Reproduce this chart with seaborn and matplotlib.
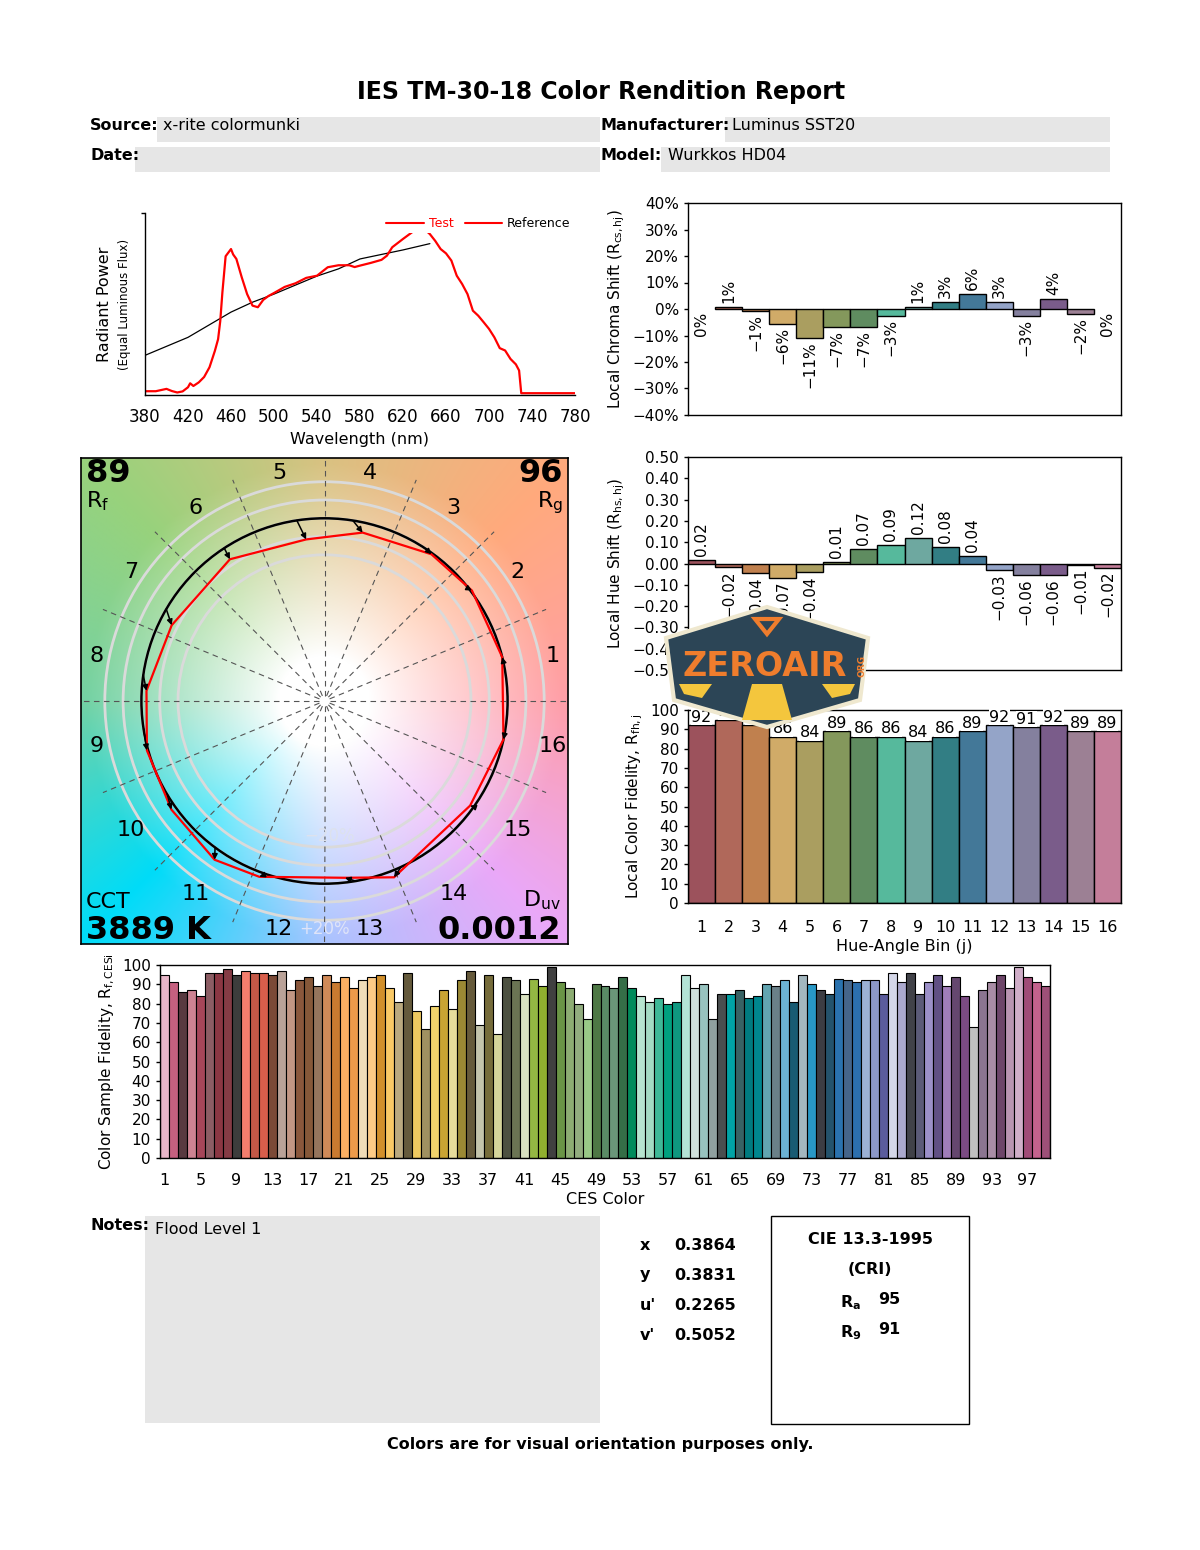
import numpy as np
import pandas as pd
import matplotlib
matplotlib.use("Agg")
import matplotlib.pyplot as plt
import seaborn as sns
from matplotlib.patches import Polygon, Rectangle, Circle
from matplotlib.lines import Line2D
from matplotlib.ticker import FuncFormatter

# ------------------------------------------------------------------ data
wl_test = [380, 390, 400, 405, 410, 415, 420, 422, 425, 430, 435, 440, 445, 448, 450, 452,
           455, 460, 462, 465, 470, 475, 480, 485, 490, 495, 500, 510, 520, 530, 540, 550,
           560, 570, 575, 580, 590, 600, 605, 610, 620, 630, 635, 640, 645, 650, 655, 660,
           665, 670, 675, 680, 685, 690, 695, 700, 705, 710, 715, 720, 725, 728, 730, 740,
           760, 780]
test_spd = [0.011, 0.011, 0.024, 0.012, 0.004, 0.010, 0.033, 0.055, 0.040, 0.060, 0.090,
            0.144, 0.235, 0.300, 0.400, 0.560, 0.760, 0.800, 0.770, 0.745, 0.643, 0.550,
            0.486, 0.477, 0.518, 0.540, 0.556, 0.590, 0.610, 0.640, 0.652, 0.699, 0.710,
            0.710, 0.700, 0.708, 0.723, 0.740, 0.763, 0.810, 0.856, 0.900, 0.917, 0.910,
            0.883, 0.845, 0.800, 0.776, 0.736, 0.652, 0.606, 0.550, 0.458, 0.430, 0.394,
            0.357, 0.310, 0.250, 0.237, 0.190, 0.160, 0.126, 0.000, 0.000, 0.000, 0.000]
wl_ref = [380, 400, 420, 440, 460, 480, 500, 520, 540, 560, 580, 600, 620, 645]
ref_spd = [0.21, 0.26, 0.31, 0.38, 0.45, 0.505, 0.55, 0.60, 0.65, 0.69, 0.745, 0.77, 0.795, 0.83]
spec_ticks = [380, 420, 460, 500, 540, 580, 620, 660, 700, 740, 780]

bins = [str(b) for b in range(1, 17)]
bin_colors = ["#9c525c", "#b0685a", "#c0804e", "#d0ab68", "#aa9e60", "#84985c", "#5f8c60",
              "#56b99c", "#6ea8a0", "#327e84", "#437898", "#94a4c8", "#84809e", "#7a5c8a",
              "#9c8094", "#c47e9a"]
chroma_shift = [0.0, 0.7, -0.7, -5.5, -11.0, -6.8, -6.8, -2.6, 0.7, 2.6, 5.6, 2.6, -2.6, 3.7, -2.0, 0.0]
hue_shift = [0.017, -0.016, -0.044, -0.067, -0.039, 0.008, 0.066, 0.086, 0.12, 0.078, 0.036,
             -0.03, -0.056, -0.056, -0.006, -0.02]
fidelity_bin = [92, 95, 92, 86, 84, 89, 86, 86, 84, 86, 89, 92, 91, 92, 89, 89]
ref_angle_deg = [12.9, 37.8, 56.5, 81.1, 98.7, 123.2, 149.8, 171.8, 188.7, 210.9, 233.3,
                 251.4, 279.8, 294.7, 324.6, 349.0]

ces_ids = [str(i) for i in range(1, 100)]
ces_vals = [95, 91, 86, 87, 84, 96, 96, 98, 95, 97, 96, 96, 95, 97, 87, 92, 94, 89, 95, 91,
            94, 88, 92, 94, 95, 88, 81, 96, 76, 67, 79, 87, 77, 92, 97, 69, 95, 64, 94, 92,
            85, 93, 89, 99, 91, 88, 80, 72, 90, 89, 88, 94, 88, 84, 81, 83, 80, 81, 95, 88,
            90, 72, 85, 85, 87, 83, 84, 90, 89, 92, 81, 95, 90, 87, 85, 93, 92, 91, 92, 92,
            85, 96, 91, 96, 85, 91, 95, 89, 94, 84, 68, 87, 91, 95, 88, 99, 94, 91, 89]
ces_colors = ["#e8b6c9", "#c5607f", "#583a40", "#cd8392", "#a64659", "#8c5d64", "#8b3743",
              "#853c45", "#3d3d3c", "#f47e6d", "#c35847", "#d85e4b", "#7b4a37", "#b9a298",
              "#c29684", "#8a573c", "#865839", "#95755d", "#d08a58", "#c97a30", "#fbb063",
              "#ec9a4a", "#efdcb8", "#fdcb86", "#d18f2b", "#f9c966", "#baa97f", "#655a3c",
              "#eec960", "#a09161", "#f0d36c", "#c9a433", "#e6dc9b", "#9b8934", "#665a3b",
              "#c4c4ac", "#766c3b", "#d5d59b", "#4d5141", "#6b7453", "#d9e1c1", "#94b743",
              "#90b02f", "#404040", "#6a9546", "#8dad73", "#92ad7f", "#99c987", "#4e7845",
              "#5a8b65", "#6a9679", "#356e47", "#008b5b", "#b6e4cf", "#a4dbc3", "#3fb897",
              "#00a07f", "#0e9880", "#b3e3d6", "#cfe0dc", "#98c3bf", "#90a09f", "#4a4e4f",
              "#00a3a6", "#386264", "#007b80", "#00878f", "#62a5b1", "#6a8088", "#6cb3d4",
              "#185b73", "#a3b7bf", "#2898c6", "#3c3d43", "#24536c", "#2a72ae", "#45658a",
              "#2c6fae", "#9cb1d5", "#8c98c8", "#5b5c9c", "#d4d7e8", "#aba9cd", "#414248",
              "#5c5b78", "#9c90c8", "#615084", "#a07db9", "#65476f", "#7b4b83", "#c0c0c0",
              "#8b7590", "#a98da5", "#6d4669", "#b995b1", "#d0aec8", "#a04b77", "#c4628d",
              "#9e5078"]

wheel_angles = [0, 45, 90, 135, 180, 225, 270, 315, 360]
wheel_colors = ["#ff9fa8", "#ffaa7c", "#d9c282", "#98d27c", "#74d2a4", "#00dcf8", "#aac4ff",
                "#eaa8f8", "#ff9fa8"]

Rf, Rg, CCT, Duv = "89", "96", "3889 K", "0.0012"
chrom_labels = ["x", "y", "u'", "v'"]
chrom_values = ["0.3864", "0.3831", "0.2265", "0.5052"]
Ra, R9 = "95", "91"

# ------------------------------------------------------------------ style
sns.set_theme(style="white")
plt.rcParams["font.family"] = ["DejaVu Sans"]
plt.rcParams.update({"axes.edgecolor": "black", "axes.linewidth": 1.0,
                     "ytick.left": True, "ytick.major.size": 3, "ytick.major.width": 1,
                     "xtick.bottom": False, "text.color": "black",
                     "axes.labelcolor": "black", "xtick.color": "black", "ytick.color": "black"})
MINUS = "\u2212"

fig = plt.figure(figsize=(12, 15.5), dpi=100)
fig.patch.set_facecolor("white")


def fx(x):
    return x / 1200.0


def fy(y):
    return 1.0 - y / 1550.0


def axrect(l, t, r, b):
    return [fx(l), fy(b), (r - l) / 1200.0, (b - t) / 1550.0]


def gray_box(l, t, r, b, fc="#e6e6e6", ec="none", lw=0):
    fig.add_artist(Rectangle((fx(l), fy(b)), (r - l) / 1200.0, (b - t) / 1550.0,
                             transform=fig.transFigure, facecolor=fc, edgecolor=ec,
                             linewidth=lw, zorder=0))


def fmt_num(v, nd):
    v = round(v, nd) + 0.0
    return f"{v:.{nd}f}".replace("-", MINUS)


# ------------------------------------------------------------------ header
fig.text(fx(601), fy(92), "IES TM-30-18 Color Rendition Report", ha="center", va="center",
         fontsize=17, fontweight="bold")
gray_box(157, 117, 600, 142)
gray_box(135, 147, 600, 172)
gray_box(725, 117, 1110, 142)
gray_box(661, 147, 1110, 172)
hdr = dict(fontsize=11.5, va="center")
fig.text(fx(90), fy(126), "Source:", fontweight="bold", **hdr)
fig.text(fx(163), fy(126), "x-rite colormunki", **hdr)
fig.text(fx(90), fy(156), "Date:", fontweight="bold", **hdr)
fig.text(fx(600), fy(126), "Manufacturer:", fontweight="bold", **hdr)
fig.text(fx(732), fy(126), "Luminus SST20", **hdr)
fig.text(fx(600), fy(156), "Model:", fontweight="bold", **hdr)
fig.text(fx(668), fy(156), "Wurkkos HD04", **hdr)

# ------------------------------------------------------------------ spectrum
ax = fig.add_axes(axrect(145, 213, 575, 395))
sns.lineplot(x=wl_ref, y=ref_spd, ax=ax, color="black", lw=0.9)
sns.lineplot(x=wl_test, y=test_spd, ax=ax, color="red", lw=1.6)
ax.set_xlim(380, 780)
ax.set_ylim(-0.01, 1.0)
ax.set_xticks(spec_ticks)
ax.set_xticklabels([str(t) for t in spec_ticks], fontsize=12)
ax.set_yticks([1.0])
ax.set_yticklabels([])
ax.spines["top"].set_visible(False)
ax.spines["right"].set_visible(False)
ax.set_xlabel("Wavelength (nm)", fontsize=11.5, labelpad=4)
ax.set_ylabel("")
ax.text(-0.095, 0.5, "Radiant Power", transform=ax.transAxes, rotation=90, ha="center",
        va="center", fontsize=11.5)
ax.text(-0.048, 0.5, "(Equal Luminous Flux)", transform=ax.transAxes, rotation=90,
        ha="center", va="center", fontsize=8.5)
ax.legend(handles=[Line2D([], [], color="red", lw=1.5), Line2D([], [], color="red", lw=1.5)],
          labels=["Test", "Reference"], ncol=2, loc="upper right", fontsize=9,
          frameon=True, facecolor="white", edgecolor="none", framealpha=1,
          labelcolor=["red", "black"], handlelength=3, borderaxespad=0.15,
          columnspacing=0.9, borderpad=0.2, handletextpad=0.4)

# ------------------------------------------------------------------ vector graphic
axv = fig.add_axes(axrect(81, 458, 568, 944))
lim = 1.33
g = np.linspace(-lim, lim, 600)
X, Y = np.meshgrid(g, g)
R = np.hypot(X, Y)
T = np.degrees(np.arctan2(Y, X)) % 360
rgb = np.array([matplotlib.colors.to_rgb(c) for c in wheel_colors])
wheel = np.stack([np.interp(T, wheel_angles, rgb[:, k]) for k in range(3)], axis=-1)
w = np.clip((R - 0.25) / 1.05, 0, 1) ** 0.9
img = 1 - w[..., None] * (1 - wheel)
axv.imshow(img, extent=[-lim, lim, -lim, lim], origin="lower", interpolation="bilinear",
           aspect="auto", zorder=0)
axv.set_xlim(-lim, lim)
axv.set_ylim(-lim, lim)
axv.set_xticks([])
axv.set_yticks([])
for s in axv.spines.values():
    s.set_color("black")
    s.set_linewidth(1.2)
for rr in [0.8, 0.9, 1.0, 1.1, 1.2]:
    axv.add_patch(Circle((0, 0), rr, fill=False, edgecolor="#dadada", lw=2.0, zorder=1))
for k in range(16):
    a = np.radians(k * 22.5)
    L = 1.34 if k % 4 == 0 else 1.31
    axv.plot([0.03 * np.cos(a), L * np.cos(a)], [0.03 * np.sin(a), L * np.sin(a)],
             color="#555555", lw=0.8, ls=(0, (5, 4)), zorder=2)
axv.add_patch(Circle((0, 0), 1.0, fill=False, edgecolor="black", lw=1.8, zorder=3))
ra = np.radians(ref_angle_deg)
ta = ra + np.array(hue_shift)
tr = 1 + np.array(chroma_shift) / 100.0
tx, ty = tr * np.cos(ta), tr * np.sin(ta)
axv.add_patch(Polygon(np.column_stack([tx, ty]), closed=True, fill=False,
                      edgecolor="red", lw=1.6, zorder=4))
for k in range(16):
    axv.annotate("", xy=(tx[k], ty[k]), xytext=(np.cos(ra[k]), np.sin(ra[k])),
                 arrowprops=dict(arrowstyle="-|>", color="black", lw=1.1,
                                 mutation_scale=8, shrinkA=0, shrinkB=0), zorder=5)
for k in range(16):
    a = np.radians((k + 0.5) * 22.5)
    axv.text(1.27 * np.cos(a), 1.27 * np.sin(a), bins[k], ha="center", va="center",
             fontsize=16, zorder=6)
axv.text(0.03, -0.74, MINUS + "20%", ha="center", va="center", fontsize=12,
         color="#dde2ee", zorder=6)
axv.text(0.0, -1.25, "+20%", ha="center", va="center", fontsize=12, color="#dfe4f8",
         zorder=6)
tkw = dict(transform=axv.transAxes, zorder=7)
axv.text(0.01, 1.0, Rf, ha="left", va="top", fontsize=23, fontweight="bold", **tkw)
axv.text(0.01, 0.935, "R$_\\mathregular{f}$", ha="left", va="top", fontsize=16, **tkw)
axv.text(0.99, 1.0, Rg, ha="right", va="top", fontsize=23, fontweight="bold", **tkw)
axv.text(0.99, 0.935, "R$_\\mathregular{g}$", ha="right", va="top", fontsize=16, **tkw)
axv.text(0.01, 0.065, "CCT", ha="left", va="bottom", fontsize=16, **tkw)
axv.text(0.01, -0.005, CCT, ha="left", va="bottom", fontsize=23, fontweight="bold", **tkw)
axv.text(0.985, 0.065, "D$_\\mathregular{uv}$", ha="right", va="bottom", fontsize=16, **tkw)
axv.text(0.985, -0.005, Duv, ha="right", va="bottom", fontsize=23, fontweight="bold", **tkw)

# ------------------------------------------------------------------ bar helpers
df_bins = pd.DataFrame({"bin": bins, "chroma": chroma_shift, "hue": hue_shift,
                        "fid": fidelity_bin})


def bin_bars(ax, col):
    sns.barplot(data=df_bins, x="bin", y=col, hue="bin", palette=bin_colors, legend=False,
                width=1.0, edgecolor="black", linewidth=1.0, saturation=1, ax=ax)
    for p in ax.patches:
        if abs(p.get_height()) < 1e-9:
            p.set_linewidth(0)
    ax.set_xlim(-0.5, 15.5)
    ax.set_xlabel("")
    for s in ax.spines.values():
        s.set_visible(True)
        s.set_color("black")


lab_bbox = dict(facecolor="white", edgecolor="none", pad=0.6)

# chroma shift
axc = fig.add_axes(axrect(688, 203, 1121, 415))
bin_bars(axc, "chroma")
axc.set_ylim(-40, 40)
axc.set_yticks(range(-40, 41, 10))
axc.yaxis.set_major_formatter(FuncFormatter(lambda v, p: fmt_num(v, 0) + "%"))
axc.tick_params(axis="y", labelsize=11)
axc.set_xticks([])
axc.set_ylabel("Local Chroma Shift (R$_\\mathregular{cs,hj}$)", fontsize=11)
for i, v in enumerate(chroma_shift):
    lab = fmt_num(v, 0) + "%"
    if v > 0:
        axc.text(i, v + 1.5, lab, rotation=90, ha="center", va="bottom", fontsize=11,
                 bbox=lab_bbox, zorder=5)
    else:
        axc.text(i, v - 1.2, lab, rotation=90, ha="center", va="top", fontsize=11,
                 bbox=lab_bbox, zorder=5)

# hue shift
axh = fig.add_axes(axrect(688, 457, 1121, 670))
bin_bars(axh, "hue")
axh.set_ylim(-0.5, 0.5)
axh.set_yticks(np.round(np.arange(-0.5, 0.51, 0.1), 2))
axh.yaxis.set_major_formatter(FuncFormatter(lambda v, p: fmt_num(v, 2)))
axh.tick_params(axis="y", labelsize=11)
axh.set_xticks([])
axh.set_ylabel("Local Hue Shift (R$_\\mathregular{hs,hj}$)", fontsize=11)
for i, v in enumerate(hue_shift):
    lab = fmt_num(v, 2)
    if v > 0:
        axh.text(i, v + 0.02, lab, rotation=90, ha="center", va="bottom", fontsize=11,
                 bbox=lab_bbox, zorder=5)
    else:
        axh.text(i, v - 0.015, lab, rotation=90, ha="center", va="top", fontsize=11,
                 bbox=lab_bbox, zorder=5)

# fidelity by hue bin
axf = fig.add_axes(axrect(688, 710, 1121, 903))
bin_bars(axf, "fid")
axf.set_ylim(0, 100)
axf.set_yticks(range(0, 101, 10))
axf.tick_params(axis="y", labelsize=11)
axf.tick_params(axis="x", labelsize=11.5, pad=6)
axf.set_xticks(range(16))
axf.set_xticklabels(bins)
axf.set_xlabel("Hue-Angle Bin (j)", fontsize=11.5, labelpad=3)
axf.set_ylabel("Local Color Fidelity, R$_\\mathregular{fh,j}$", fontsize=11)
for i, v in enumerate(fidelity_bin):
    axf.text(i, v + 0.3, str(v), ha="center", va="bottom", fontsize=11.5,
             bbox=dict(facecolor="white", edgecolor="none", pad=0.3), zorder=5)

# ------------------------------------------------------------------ CES fidelity
axs = fig.add_axes(axrect(160, 965, 1050, 1158))
df_ces = pd.DataFrame({"ces": ces_ids, "val": ces_vals})
sns.barplot(data=df_ces, x="ces", y="val", hue="ces", palette=ces_colors, legend=False,
            width=1.0, edgecolor="black", linewidth=0.8, saturation=1, ax=axs)
axs.set_xlim(-0.5, 98.5)
axs.set_ylim(0, 100)
axs.set_yticks(range(0, 101, 10))
axs.tick_params(axis="y", labelsize=11)
axs.set_xticks(range(0, 99, 4))
axs.set_xticklabels([ces_ids[i] for i in range(0, 99, 4)], fontsize=11.5)
axs.tick_params(axis="x", pad=5)
axs.set_xlabel("CES Color", fontsize=11.5, labelpad=3)
axs.set_ylabel("Color Sample Fidelity, R$_\\mathregular{f,CESi}$", fontsize=11)
for s in axs.spines.values():
    s.set_visible(True)
    s.set_color("black")

# ------------------------------------------------------------------ bottom section
gray_box(145, 1216, 600, 1423)
fig.text(fx(90), fy(1226), "Notes:", fontsize=11.5, fontweight="bold", va="center")
fig.text(fx(155), fy(1230), "Flood Level 1", fontsize=11.5, va="center")
for k, (lab, val) in enumerate(zip(chrom_labels, chrom_values)):
    yy = 1245 + 30 * k
    fig.text(fx(640), fy(yy), lab, fontsize=11.5, fontweight="bold", va="center")
    fig.text(fx(674), fy(yy), val, fontsize=11.5, fontweight="bold", va="center")
gray_box(771, 1216, 969, 1424, fc="white", ec="black", lw=1.0)
fig.text(fx(870), fy(1240), "CIE 13.3-1995", fontsize=11.5, fontweight="bold",
         ha="center", va="center")
fig.text(fx(870), fy(1270), "(CRI)", fontsize=11.5, fontweight="bold", ha="center",
         va="center")
fig.text(fx(840), fy(1303), "R$_\\mathbf{a}$", fontsize=11.5, fontweight="bold", va="center")
fig.text(fx(878), fy(1300), Ra, fontsize=11.5, fontweight="bold", va="center")
fig.text(fx(840), fy(1333), "R$_\\mathbf{9}$", fontsize=11.5, fontweight="bold", va="center")
fig.text(fx(878), fy(1330), R9, fontsize=11.5, fontweight="bold", va="center")
fig.text(fx(600), fy(1444), "Colors are for visual orientation purposes only.",
         fontsize=11.5, fontweight="bold", ha="center", va="center")

# ------------------------------------------------------------------ watermark
hexa = [(666, 638), (767, 607), (868, 638), (860, 700), (767, 727), (674, 700)]
fig.add_artist(Polygon([(fx(a), fy(b)) for a, b in hexa], closed=True,
                       transform=fig.transFigure, facecolor="#2c4556", edgecolor="#efe8cf",
                       linewidth=3, zorder=20))
for poly in [[(679, 684), (712, 684), (702, 698), (684, 694)],
             [(752, 684), (782, 684), (792, 720), (742, 720)],
             [(822, 684), (855, 684), (850, 694), (832, 698)]]:
    fig.add_artist(Polygon([(fx(a), fy(b)) for a, b in poly], closed=True,
                           transform=fig.transFigure, facecolor="#f4c63d",
                           edgecolor="none", zorder=21))
fig.add_artist(Polygon([(fx(a), fy(b)) for a, b in [(755, 619), (779, 619), (767, 634)]],
                       closed=True, transform=fig.transFigure, facecolor="none",
                       edgecolor="#ef7d2d", linewidth=3, zorder=21))
fig.text(fx(765), fy(666), "ZEROAIR", fontsize=24, fontweight="bold", color="#ef7d2d",
         ha="center", va="center", zorder=22)
fig.text(fx(862), fy(666), "ORG", fontsize=6.5, fontweight="bold", color="#ef7d2d",
         ha="center", va="center", rotation=90, zorder=22)

fig.savefig("out.png", dpi=100, facecolor="white")
